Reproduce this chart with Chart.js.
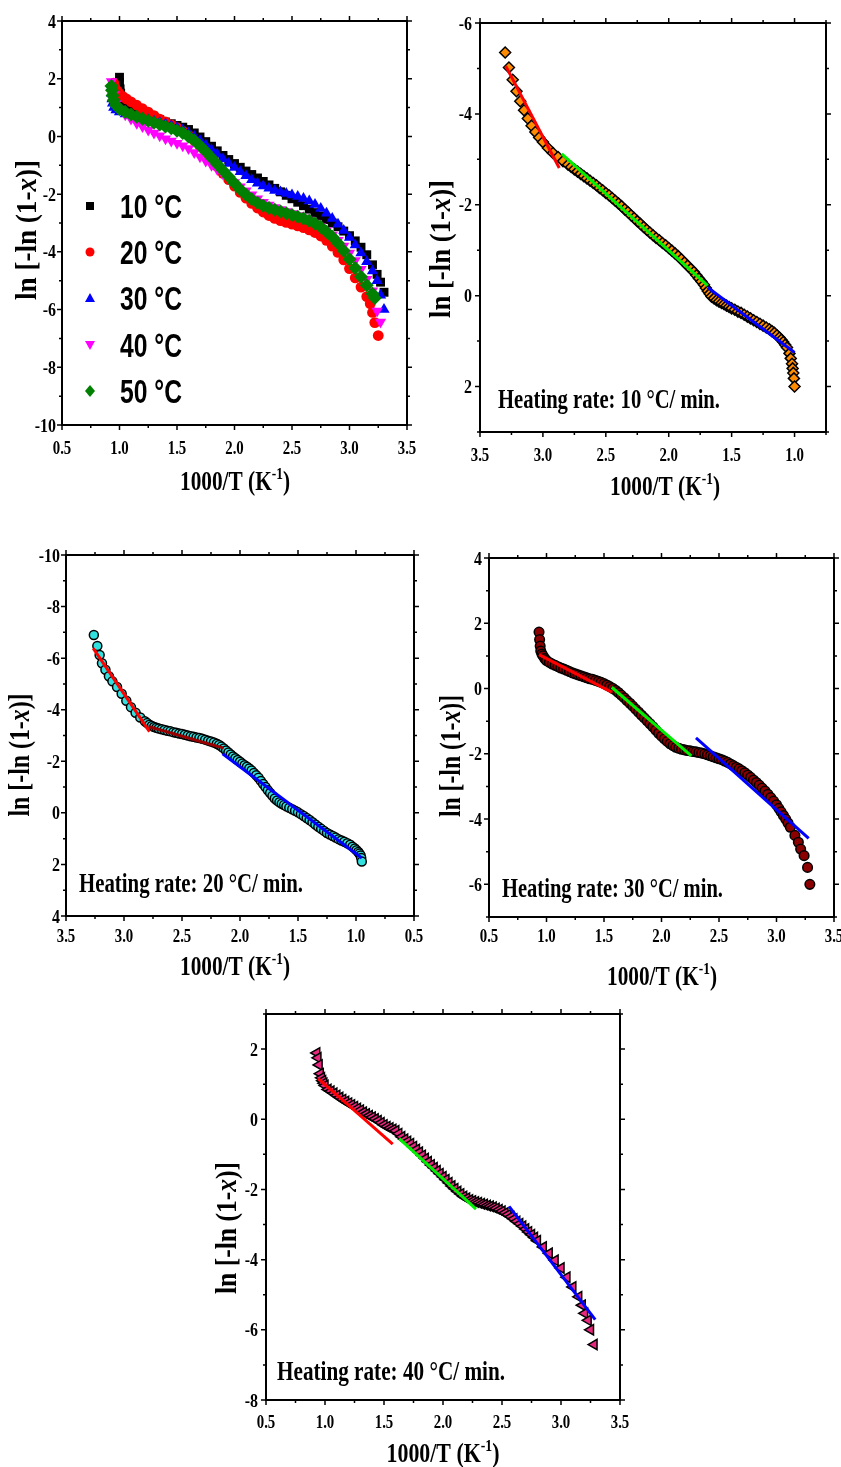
<!DOCTYPE html>
<html>
<head>
  <meta charset="UTF-8">
  <title>ln[-ln(1-x)] vs 1000/T</title>
  <script src="https://cdn.jsdelivr.net/npm/chart.js"></script>
  <style>
    body { margin: 0; background: #fff; }
    #page { position: relative; width: 841px; height: 1467px; }
    canvas { position: absolute; }
  </style>
</head>
<body>
<div id="page">
  <canvas id="p1"></canvas>
  <canvas id="p2"></canvas>
  <canvas id="p3"></canvas>
  <canvas id="p4"></canvas>
  <canvas id="p5"></canvas>
</div>
<script>
// ---- panel 1: all heating rates ----
const rateLabels = ['10 °C', '20 °C', '30 °C', '40 °C', '50 °C'];

const r10X = [1.0, 1.0, 1.005, 1.01, 1.02, 1.04, 1.07, 1.1, 1.15, 1.2, 1.25, 1.3, 1.35, 1.4, 1.45, 1.5, 1.55, 1.6, 1.65, 1.7, 1.75, 1.8, 1.85, 1.9, 1.95, 2.0, 2.05, 2.1, 2.15, 2.2, 2.25, 2.3, 2.35, 2.4, 2.45, 2.5, 2.55, 2.6, 2.65, 2.7, 2.75, 2.8, 2.85, 2.9, 2.95, 3.0, 3.05, 3.1, 3.15, 3.2, 3.24, 3.27, 3.3];
const r10Y = [2.05, 1.85, 1.65, 1.5, 1.35, 1.2, 1.08, 0.98, 0.88, 0.8, 0.72, 0.65, 0.58, 0.5, 0.44, 0.38, 0.32, 0.24, 0.12, -0.02, -0.18, -0.34, -0.5, -0.66, -0.8, -0.94, -1.07, -1.2, -1.32, -1.44, -1.56, -1.68, -1.8, -1.92, -2.04, -2.16, -2.28, -2.4, -2.52, -2.64, -2.76, -2.88, -3.0, -3.13, -3.28, -3.44, -3.62, -3.84, -4.1, -4.45, -4.78, -5.05, -5.4];

const r20X = [0.95, 0.96, 0.98, 1.0, 1.03, 1.06, 1.1, 1.15, 1.2, 1.25, 1.3, 1.35, 1.4, 1.45, 1.5, 1.55, 1.6, 1.65, 1.7, 1.75, 1.8, 1.85, 1.9, 1.95, 2.0, 2.05, 2.1, 2.15, 2.2, 2.25, 2.3, 2.35, 2.4, 2.45, 2.5, 2.55, 2.6, 2.65, 2.7, 2.75, 2.8, 2.85, 2.9, 2.95, 3.0, 3.05, 3.1, 3.15, 3.18, 3.2, 3.22, 3.25];
const r20Y = [1.85, 1.7, 1.58, 1.48, 1.38, 1.3, 1.2, 1.08, 0.96, 0.84, 0.72, 0.6, 0.5, 0.4, 0.3, 0.18, 0.04, -0.14, -0.34, -0.56, -0.8, -1.04, -1.28, -1.5, -1.72, -1.94, -2.14, -2.32, -2.48, -2.62, -2.74, -2.84, -2.92, -2.98, -3.04, -3.1, -3.16, -3.24, -3.33, -3.45, -3.6, -3.8, -4.02, -4.28, -4.58, -4.9, -5.22, -5.55, -5.8, -6.1, -6.45, -6.9];

const r30X = [0.93, 0.93, 0.935, 0.94, 0.95, 0.97, 1.0, 1.05, 1.1, 1.15, 1.2, 1.25, 1.3, 1.35, 1.4, 1.45, 1.5, 1.55, 1.6, 1.65, 1.7, 1.75, 1.8, 1.85, 1.9, 1.95, 2.0, 2.05, 2.1, 2.15, 2.2, 2.25, 2.3, 2.35, 2.4, 2.45, 2.5, 2.55, 2.6, 2.65, 2.7, 2.75, 2.8, 2.85, 2.9, 2.95, 3.0, 3.05, 3.1, 3.15, 3.2, 3.24, 3.27, 3.3];
const r30Y = [1.7, 1.5, 1.3, 1.15, 1.0, 0.92, 0.85, 0.78, 0.72, 0.68, 0.63, 0.58, 0.53, 0.48, 0.43, 0.37, 0.3, 0.22, 0.12, 0.0, -0.14, -0.3, -0.46, -0.62, -0.78, -0.94, -1.08, -1.22, -1.36, -1.5, -1.62, -1.72, -1.8, -1.87, -1.93, -1.98, -2.03, -2.08, -2.15, -2.24, -2.36, -2.5, -2.66, -2.84, -3.04, -3.26, -3.5, -3.76, -4.04, -4.34, -4.66, -5.0, -5.5, -6.0];

const r40X = [0.93, 0.95, 0.97, 1.0, 1.05, 1.1, 1.15, 1.2, 1.25, 1.3, 1.35, 1.4, 1.45, 1.5, 1.55, 1.6, 1.65, 1.7, 1.75, 1.8, 1.85, 1.9, 1.95, 2.0, 2.05, 2.1, 2.15, 2.2, 2.25, 2.3, 2.35, 2.4, 2.45, 2.5, 2.55, 2.6, 2.65, 2.7, 2.75, 2.8, 2.85, 2.9, 2.95, 3.0, 3.05, 3.1, 3.15, 3.2, 3.24, 3.27];
const r40Y = [1.9, 1.45, 1.15, 0.95, 0.75, 0.6, 0.46, 0.34, 0.22, 0.12, 0.02, -0.08, -0.16, -0.24, -0.32, -0.42, -0.56, -0.7, -0.85, -1.0, -1.15, -1.3, -1.45, -1.6, -1.74, -1.88, -2.02, -2.16, -2.28, -2.38, -2.46, -2.53, -2.6, -2.67, -2.74, -2.82, -2.9, -3.0, -3.12, -3.26, -3.42, -3.6, -3.8, -4.04, -4.3, -4.6, -4.95, -5.35, -6.05, -6.43];

const r50X = [0.93, 0.935, 0.94, 0.95, 0.97, 1.0, 1.05, 1.1, 1.15, 1.2, 1.25, 1.3, 1.35, 1.4, 1.45, 1.5, 1.55, 1.6, 1.65, 1.7, 1.75, 1.8, 1.85, 1.9, 1.95, 2.0, 2.05, 2.1, 2.15, 2.2, 2.25, 2.3, 2.35, 2.4, 2.45, 2.5, 2.55, 2.6, 2.65, 2.7, 2.75, 2.8, 2.85, 2.9, 2.95, 3.0, 3.05, 3.1, 3.15, 3.2, 3.22];
const r50Y = [1.75, 1.6, 1.42, 1.25, 1.08, 0.95, 0.85, 0.76, 0.68, 0.61, 0.54, 0.47, 0.41, 0.34, 0.28, 0.2, 0.12, 0.0, -0.14, -0.32, -0.52, -0.74, -0.96, -1.18, -1.4, -1.62, -1.84, -2.02, -2.18, -2.3, -2.4, -2.48, -2.54, -2.6, -2.66, -2.72, -2.78, -2.84, -2.92, -3.02, -3.14, -3.3, -3.48, -3.7, -3.96, -4.26, -4.56, -4.86, -5.16, -5.45, -5.6];

// ---- panel 2: 10 °C/min ----
const hr10X = [3.30, 3.27, 3.24, 3.21, 3.18, 3.15, 3.12, 3.09, 3.06, 3.03, 3.00, 2.96, 2.92, 2.88, 2.84, 2.80,
  2.775, 2.75, 2.725, 2.70, 2.675, 2.65, 2.625, 2.60, 2.575, 2.55, 2.525, 2.50, 2.475, 2.45, 2.425, 2.40, 2.375, 2.35, 2.325, 2.30,
  2.275, 2.25, 2.225, 2.20, 2.175, 2.15, 2.125, 2.10, 2.075, 2.05, 2.025, 2.00, 1.975, 1.95, 1.925, 1.90, 1.875, 1.85, 1.825, 1.80,
  1.78, 1.76, 1.74, 1.72, 1.705, 1.69, 1.675, 1.66, 1.64, 1.62, 1.60, 1.58, 1.56, 1.54, 1.52, 1.50,
  1.475, 1.45, 1.425, 1.40, 1.375, 1.35, 1.325, 1.30, 1.275, 1.25, 1.225, 1.20,
  1.18, 1.16, 1.14, 1.12, 1.105, 1.09, 1.075, 1.06, 1.04, 1.03, 1.02, 1.015, 1.01, 1.005, 1.00];
const hr10Y = [-5.35, -5.02, -4.75, -4.5, -4.28, -4.08, -3.9, -3.74, -3.6, -3.48, -3.38, -3.25, -3.14, -3.05, -2.96, -2.88,
  -2.83, -2.78, -2.73, -2.68, -2.63, -2.58, -2.53, -2.48, -2.43, -2.37, -2.32, -2.26, -2.21, -2.15, -2.09, -2.03, -1.97, -1.9, -1.84, -1.77,
  -1.71, -1.64, -1.58, -1.51, -1.45, -1.39, -1.33, -1.27, -1.22, -1.16, -1.11, -1.05, -0.99, -0.93, -0.87, -0.8, -0.73, -0.66, -0.59, -0.52,
  -0.45, -0.38, -0.31, -0.24, -0.17, -0.1, -0.04, 0.02, 0.06, 0.1, 0.13, 0.16, 0.19, 0.22, 0.25, 0.28,
  0.31, 0.35, 0.38, 0.42, 0.46, 0.5, 0.54, 0.58, 0.62, 0.66, 0.7, 0.74,
  0.78, 0.82, 0.87, 0.92, 0.97, 1.02, 1.08, 1.14, 1.27, 1.38, 1.5, 1.6, 1.7, 1.82, 2.0];
const hr10FitRX = [3.295, 2.87], hr10FitRY = [-5.05, -2.81];
const hr10FitGX = [2.85, 1.69], hr10FitGY = [-3.12, -0.22];
const hr10FitBX = [1.69, 1.0], hr10FitBY = [-0.18, 1.25];

// ---- panel 3: 20 °C/min ----
const hr20X = [3.26, 3.23, 3.21, 3.19, 3.16, 3.13, 3.10, 3.06, 3.02, 2.98, 2.94, 2.90, 2.86, 2.82, 2.80, 2.78, 2.76, 2.74, 2.72, 2.70,
  2.675, 2.65, 2.625, 2.60, 2.575, 2.55, 2.525, 2.50, 2.475, 2.45, 2.425, 2.40, 2.375, 2.35, 2.325, 2.30, 2.275, 2.25, 2.225, 2.20,
  2.18, 2.16, 2.14, 2.12, 2.10, 2.08, 2.06, 2.04, 2.02, 2.00, 1.98, 1.96, 1.94, 1.92, 1.90, 1.88, 1.86, 1.84, 1.82, 1.80,
  1.78, 1.76, 1.74, 1.72, 1.70, 1.68, 1.66, 1.64, 1.62, 1.60,
  1.575, 1.55, 1.525, 1.50, 1.475, 1.45, 1.425, 1.40, 1.375, 1.35, 1.325, 1.30, 1.275, 1.25, 1.225, 1.20, 1.175, 1.15, 1.125, 1.10, 1.075, 1.05,
  1.03, 1.01, 0.995, 0.98, 0.97, 0.96, 0.955, 0.95];
const hr20Y = [-6.9, -6.47, -6.12, -5.8, -5.55, -5.3, -5.1, -4.88, -4.62, -4.35, -4.1, -3.88, -3.7, -3.55, -3.48, -3.42, -3.37, -3.33, -3.3, -3.27,
  -3.24, -3.21, -3.18, -3.16, -3.13, -3.11, -3.08, -3.06, -3.03, -3.0, -2.97, -2.95, -2.92, -2.9, -2.87, -2.84, -2.8, -2.77, -2.73, -2.68,
  -2.63, -2.57, -2.5, -2.42, -2.34, -2.26, -2.19, -2.12, -2.05, -1.98, -1.91, -1.85, -1.79, -1.72, -1.64, -1.55, -1.46, -1.36, -1.24, -1.12,
  -1.0, -0.88, -0.77, -0.66, -0.56, -0.48, -0.41, -0.35, -0.3, -0.25,
  -0.2, -0.14, -0.08, -0.02, 0.05, 0.12, 0.2, 0.28, 0.36, 0.45, 0.54, 0.62, 0.7, 0.78, 0.84, 0.9, 0.96, 1.02, 1.07, 1.12, 1.18, 1.24,
  1.31, 1.38, 1.45, 1.52, 1.58, 1.65, 1.75, 1.89];
const hr20FitRX = [3.265, 2.78], hr20FitRY = [-6.38, -3.15];
const hr20FitMX = [2.79, 2.14], hr20FitMY = [-3.35, -2.51];
const hr20FitBX = [2.15, 0.95], hr20FitBY = [-2.29, 1.75];

// ---- panel 4: 30 °C/min ----
const hr30X = [0.935, 0.94, 0.945, 0.95, 0.96, 0.97, 0.985, 1.0,
  1.025, 1.05, 1.075, 1.1, 1.125, 1.15, 1.175, 1.2, 1.225, 1.25, 1.275, 1.3, 1.325, 1.35, 1.375, 1.4, 1.425, 1.45, 1.475, 1.5,
  1.525, 1.55, 1.575, 1.6, 1.625, 1.65, 1.675, 1.7, 1.725, 1.75, 1.775, 1.8, 1.825, 1.85, 1.875, 1.9, 1.925, 1.95, 1.975, 2.0,
  2.025, 2.05, 2.075, 2.1, 2.125, 2.15, 2.175, 2.2, 2.225, 2.25, 2.275, 2.3, 2.325, 2.35, 2.375, 2.4, 2.425, 2.45, 2.475, 2.5,
  2.525, 2.55, 2.575, 2.6, 2.625, 2.65, 2.675, 2.7, 2.725, 2.75, 2.775, 2.8, 2.825, 2.85, 2.875, 2.9, 2.925, 2.95, 2.975, 3.0,
  3.02, 3.04, 3.06, 3.08, 3.10, 3.12, 3.16, 3.19, 3.21, 3.24, 3.27, 3.29];
const hr30Y = [1.73, 1.5, 1.3, 1.15, 1.06, 1.0, 0.92, 0.86,
  0.8, 0.75, 0.71, 0.67, 0.63, 0.6, 0.56, 0.52, 0.48, 0.45, 0.42, 0.39, 0.36, 0.33, 0.3, 0.28, 0.25, 0.22, 0.19, 0.15,
  0.11, 0.06, 0.01, -0.05, -0.12, -0.2, -0.28, -0.37, -0.45, -0.54, -0.63, -0.72, -0.81, -0.9, -0.99, -1.08, -1.17, -1.27, -1.37, -1.46,
  -1.54, -1.62, -1.69, -1.75, -1.8, -1.83, -1.86, -1.88, -1.9, -1.91, -1.93, -1.94, -1.96, -1.98, -2.0, -2.03, -2.06, -2.09, -2.12, -2.15,
  -2.18, -2.22, -2.26, -2.31, -2.36, -2.41, -2.46, -2.52, -2.58, -2.65, -2.72, -2.8, -2.88, -2.96, -3.05, -3.14, -3.24, -3.34, -3.45, -3.56,
  -3.67, -3.78, -3.89, -4.0, -4.12, -4.25, -4.5, -4.71, -4.92, -5.12, -5.48, -6.0];
const hr30FitRX = [0.935, 1.567], hr30FitRY = [1.04, -0.11];
const hr30FitGX = [1.567, 2.26], hr30FitGY = [0.04, -2.06];
const hr30FitBX = [2.30, 3.28], hr30FitBY = [-1.51, -4.59];

// ---- panel 5: 40 °C/min ----
const hr40X = [0.93, 0.94, 0.95, 0.96, 0.97, 0.98, 0.99, 1.0,
  1.025, 1.05, 1.075, 1.1, 1.125, 1.15, 1.175, 1.2, 1.225, 1.25, 1.275, 1.3, 1.325, 1.35, 1.375, 1.4, 1.425, 1.45, 1.475, 1.5,
  1.525, 1.55, 1.575, 1.6, 1.625, 1.65, 1.675, 1.7, 1.725, 1.75, 1.775, 1.8, 1.825, 1.85, 1.875, 1.9, 1.925, 1.95, 1.975, 2.0,
  2.025, 2.05, 2.075, 2.1, 2.125, 2.15, 2.175, 2.2, 2.225, 2.25, 2.275, 2.3, 2.325, 2.35, 2.375, 2.4, 2.425, 2.45, 2.475, 2.5,
  2.525, 2.55, 2.575, 2.6, 2.625, 2.65, 2.675, 2.7, 2.725, 2.75, 2.775, 2.8,
  2.85, 2.9, 2.95, 3.0, 3.05, 3.1, 3.15, 3.18, 3.2, 3.23, 3.25, 3.28];
const hr40Y = [1.89, 1.75, 1.55, 1.3, 1.18, 1.1, 1.03, 0.96,
  0.85, 0.8, 0.74, 0.68, 0.62, 0.56, 0.51, 0.46, 0.41, 0.36, 0.31, 0.26, 0.2, 0.15, 0.1, 0.06, 0.01, -0.04, -0.1, -0.16,
  -0.21, -0.25, -0.29, -0.33, -0.41, -0.5, -0.57, -0.63, -0.7, -0.78, -0.86, -0.94, -1.03, -1.12, -1.21, -1.3, -1.38, -1.47, -1.55, -1.64,
  -1.72, -1.81, -1.9, -1.98, -2.06, -2.13, -2.2, -2.25, -2.3, -2.33, -2.36, -2.38, -2.41, -2.43, -2.46, -2.48, -2.51, -2.54, -2.58, -2.62,
  -2.67, -2.72, -2.78, -2.84, -2.91, -2.98, -3.05, -3.13, -3.21, -3.29, -3.37, -3.46,
  -3.64, -3.82, -4.02, -4.24, -4.5, -4.78, -5.06, -5.3, -5.53, -5.73, -6.0, -6.42];
const hr40FitRX = [0.943, 1.574], hr40FitRY = [1.16, -0.71];
const hr40FitGX = [1.63, 2.28], hr40FitGY = [-0.55, -2.56];
const hr40FitBX = [2.56, 3.29], hr40FitBY = [-2.48, -5.71];

const SERIF = '"Liberation Serif", "Times New Roman", serif';
const SANS = '"Liberation Sans", Arial, sans-serif';
const YW = 44, XH = 30;   // fixed axis box sizes

function pts(xs, ys) { return xs.map((x, i) => ({ x: x, y: ys[i] })); }

function marks(xs, ys, style, order) {
  return Object.assign({ data: pts(xs, ys), showLine: false, order: order }, style);
}
function fitLine(xs, ys, color) {
  return { data: pts(xs, ys), showLine: true, borderColor: color, borderWidth: 3, pointRadius: 0, order: 0 };
}

function eachStep(min, max, step, major, fn) {
  const n = Math.round((max - min) / step);
  for (let i = 0; i <= n; i++) {
    const v = min + i * step, r = v / major;
    fn(v, Math.abs(r - Math.round(r)) < 1e-6);
  }
}

// draw runs of text on one line, squeezed to a target width, centred on cx
function drawRuns(ctx, runs, cx, baseY, target) {
  let w = 0;
  runs.forEach(r => { ctx.font = r.font; w += ctx.measureText(r.t).width; });
  ctx.save();
  ctx.translate(cx - target / 2, baseY);
  ctx.scale(target / w, 1);
  ctx.textAlign = 'left';
  ctx.textBaseline = 'alphabetic';
  let x = 0;
  runs.forEach(r => { ctx.font = r.font; ctx.fillText(r.t, x, r.dy || 0); x += ctx.measureText(r.t).width; });
  ctx.restore();
}

// tick label squeezed horizontally like the original figure
function squeezed(ctx, text, x, y, align, k) {
  ctx.save();
  ctx.translate(x, y);
  ctx.scale(k, 1);
  ctx.textAlign = align;
  ctx.fillText(text, 0, 0);
  ctx.restore();
}

function drawMarker(ctx, shape, color, x, y) {
  ctx.fillStyle = color;
  ctx.beginPath();
  if (shape === 'rect') ctx.rect(x - 4, y - 4, 8, 8);
  else if (shape === 'circle') ctx.arc(x, y, 4.5, 0, Math.PI * 2);
  else if (shape === 'up') { ctx.moveTo(x, y - 5); ctx.lineTo(x + 5, y + 4); ctx.lineTo(x - 5, y + 4); }
  else if (shape === 'down') { ctx.moveTo(x, y + 5); ctx.lineTo(x + 5, y - 4); ctx.lineTo(x - 5, y - 4); }
  else if (shape === 'diamond') { ctx.moveTo(x, y - 6); ctx.lineTo(x + 5, y); ctx.lineTo(x, y + 6); ctx.lineTo(x - 5, y); }
  ctx.closePath();
  ctx.fill();
}

const decoPlugin = {
  id: 'deco',
  afterDraw(chart, args, o) {
    const ctx = chart.ctx, a = chart.chartArea, sx = chart.scales.x, sy = chart.scales.y;
    ctx.save();
    ctx.strokeStyle = '#000';
    ctx.lineWidth = 2;
    ctx.strokeRect(a.left, a.top, a.right - a.left, a.bottom - a.top);
    // major and minor ticks, outward on all four sides, labels on the majors
    ctx.lineWidth = 1.5;
    ctx.fillStyle = '#000';
    ctx.font = 'bold 19px ' + SERIF;
    ctx.textBaseline = 'alphabetic';
    ctx.beginPath();
    eachStep(sx.min, sx.max, o.xMinor, o.xMajor, (v, major) => {
      const p = sx.getPixelForValue(v), L = major ? 5 : 3;
      ctx.moveTo(p, a.bottom); ctx.lineTo(p, a.bottom + L);
      ctx.moveTo(p, a.top); ctx.lineTo(p, a.top - L);
      if (major) squeezed(ctx, v.toFixed(1), p, a.bottom + o.xLab, 'center', 0.78);
    });
    eachStep(sy.min, sy.max, o.yMinor, o.yMajor, (v, major) => {
      const p = sy.getPixelForValue(v), L = major ? 5 : 3;
      ctx.moveTo(a.left, p); ctx.lineTo(a.left - L, p);
      ctx.moveTo(a.right, p); ctx.lineTo(a.right + L, p);
      if (major) squeezed(ctx, String(Math.round(v)), a.left - o.yLab, p + 6.5, 'right', 0.84);
    });
    ctx.stroke();

    // x title with superscript
    drawRuns(ctx, [
      { t: '1000/T (K', font: 'bold 27px ' + SERIF },
      { t: '-1', font: 'bold 17px ' + SERIF, dy: -11 },
      { t: ')', font: 'bold 27px ' + SERIF }
    ], o.xt[0], o.xt[1], o.xt[2]);

    // y title, rotated
    ctx.save();
    ctx.translate(o.yt[0] + 8, o.yt[1]);
    ctx.rotate(-Math.PI / 2);
    drawRuns(ctx, [
      { t: 'ln [-ln (1-', font: 'bold 30px ' + SERIF },
      { t: 'x', font: 'italic bold 30px ' + SERIF },
      { t: ')]', font: 'bold 30px ' + SERIF }
    ], 0, 0, o.yt[2]);
    ctx.restore();

    if (o.note) {
      drawRuns(ctx, [{ t: o.note[0], font: 'bold 27px ' + SERIF }],
        o.note[1] + o.note[3] / 2, o.note[2], o.note[3]);
    }

    if (o.legend) {
      o.legend.forEach((item, i) => {
        const y = o.legendRows[i];
        drawMarker(ctx, item.shape, item.color, o.legendMarkX, y);
        ctx.fillStyle = '#000';
        drawRuns(ctx, [{ t: rateLabels[i], font: 'bold 34px ' + SANS }],
          o.legendTextX + 31, y + 12, 62);
      });
    }
    ctx.restore();
  }
};

function axis(s, isX) {
  return {
    type: 'linear', min: s.min, max: s.max, reverse: !!s.reverse,
    afterFit: sc => { if (isX) sc.height = XH; else sc.width = YW; },
    grid: { display: false },
    border: { display: false },
    ticks: { display: false, stepSize: s.major, includeBounds: false }
  };
}

// pos: canvas box in page px; area: plot rectangle in canvas px
function panel(id, pos, area, xAx, yAx, datasets, deco) {
  const cv = document.getElementById(id);
  cv.width = pos.w; cv.height = pos.h;
  cv.style.left = pos.x + 'px'; cv.style.top = pos.y + 'px';
  // page coords of decorations -> canvas coords
  deco.xt = [deco.xt[0] - pos.x, deco.xt[1] - pos.y, deco.xt[2]];
  deco.yt = [deco.yt[0] - pos.x, deco.yt[1] - pos.y, deco.yt[2]];
  if (deco.note) deco.note = [deco.note[0], deco.note[1] - pos.x, deco.note[2] - pos.y, deco.note[3]];
  deco.xMajor = xAx.major; deco.xMinor = xAx.major / 2;
  deco.yMajor = yAx.major; deco.yMinor = yAx.major / 2;
  return new Chart(cv, {
    type: 'scatter',
    data: { datasets: datasets },
    options: {
      responsive: false,
      animation: false,
      events: [],
      layout: { padding: { left: area.l - YW, top: area.t, right: pos.w - area.r, bottom: pos.h - area.b - XH } },
      plugins: { legend: { display: false }, tooltip: { enabled: false }, deco: deco },
      scales: { x: axis(xAx, true), y: axis(yAx, false) }
    },
    plugins: [decoPlugin]
  });
}

const OUTLINE = { borderColor: '#000', borderWidth: 1.5 };

// Panel 1
panel('p1', { x: 0, y: 0, w: 420, h: 505 }, { l: 62, t: 21, r: 407, b: 425 },
  { min: 0.5, max: 3.5, major: 0.5 }, { min: -10, max: 4, major: 2 },
  [
    marks(r10X, r10Y, { pointStyle: 'rect', pointRadius: 6.3, backgroundColor: '#000000', borderWidth: 0 }, 5),
    marks(r20X, r20Y, { pointStyle: 'circle', pointRadius: 5.4, backgroundColor: '#ff0000', borderWidth: 0 }, 4),
    marks(r30X, r30Y, { pointStyle: 'triangle', pointRadius: 6.5, backgroundColor: '#0000ff', borderWidth: 0 }, 3),
    marks(r40X, r40Y, { pointStyle: 'triangle', pointRotation: 180, pointRadius: 6.5, backgroundColor: '#ff00ff', borderWidth: 0 }, 2),
    marks(r50X, r50Y, { pointStyle: 'rectRot', pointRadius: 7, backgroundColor: '#008000', borderWidth: 0 }, 1)
  ],
  {
    xt: [235, 490, 110], yt: [28, 230, 140], xLab: 29, yLab: 6,
    legend: [
      { shape: 'rect', color: '#000000' }, { shape: 'circle', color: '#ff0000' },
      { shape: 'up', color: '#0000ff' }, { shape: 'down', color: '#ff00ff' },
      { shape: 'diamond', color: '#008000' }
    ],
    legendRows: [206, 252, 298, 345, 391], legendMarkX: 90, legendTextX: 120
  });

// Panel 2
panel('p2', { x: 420, y: 0, w: 421, h: 505 }, { l: 60, t: 23, r: 406, b: 432 },
  { min: 0.75, max: 3.5, major: 0.5, reverse: true }, { min: -6, max: 3, major: 2, reverse: true },
  [
    fitLine(hr10FitRX, hr10FitRY, '#ff0000'),
    fitLine(hr10FitGX, hr10FitGY, '#00ee00'),
    fitLine(hr10FitBX, hr10FitBY, '#0000ff'),
    marks(hr10X, hr10Y, Object.assign({ pointStyle: 'rectRot', pointRadius: 5.5, backgroundColor: '#ff8c00' }, OUTLINE), 1)
  ],
  { xt: [665, 495, 110], yt: [442, 249, 138], xLab: 29, yLab: 8, note: ['Heating rate: 10 °C/ min.', 498, 408, 222] });

// Panel 3
panel('p3', { x: 0, y: 520, w: 430, h: 470 }, { l: 66, t: 35, r: 414, b: 396 },
  { min: 0.5, max: 3.5, major: 0.5, reverse: true }, { min: -10, max: 4, major: 2, reverse: true },
  [
    fitLine(hr20FitRX, hr20FitRY, '#ff0000'),
    fitLine(hr20FitMX, hr20FitMY, '#990000'),
    fitLine(hr20FitBX, hr20FitBY, '#0000ff'),
    marks(hr20X, hr20Y, Object.assign({ pointStyle: 'circle', pointRadius: 4.5, backgroundColor: '#33e0e0' }, OUTLINE), 1)
  ],
  { xt: [235, 975, 110], yt: [21, 755, 123], xLab: 26, yLab: 6, note: ['Heating rate: 20 °C/ min.', 79, 892, 224] });

// Panel 4
panel('p4', { x: 430, y: 520, w: 411, h: 475 }, { l: 59, t: 38, r: 404, b: 397 },
  { min: 0.5, max: 3.5, major: 0.5 }, { min: -7, max: 4, major: 2 },
  [
    fitLine(hr30FitRX, hr30FitRY, '#ff0000'),
    fitLine(hr30FitGX, hr30FitGY, '#00ee00'),
    fitLine(hr30FitBX, hr30FitBY, '#0000ff'),
    marks(hr30X, hr30Y, Object.assign({ pointStyle: 'circle', pointRadius: 4.8, backgroundColor: '#8b0000' }, OUTLINE), 1)
  ],
  { xt: [662, 985, 110], yt: [452, 756, 122], xLab: 25, yLab: 7, note: ['Heating rate: 30 °C/ min.', 502, 897, 221] });

// Panel 5
panel('p5', { x: 210, y: 1000, w: 430, h: 467 }, { l: 56, t: 14, r: 410, b: 400 },
  { min: 0.5, max: 3.5, major: 0.5 }, { min: -8, max: 3, major: 2 },
  [
    fitLine(hr40FitRX, hr40FitRY, '#ff0000'),
    fitLine(hr40FitGX, hr40FitGY, '#00ee00'),
    fitLine(hr40FitBX, hr40FitBY, '#0000ff'),
    marks(hr40X, hr40Y, Object.assign({ pointStyle: 'triangle', pointRotation: -90, pointRadius: 6, backgroundColor: '#e8287e' }, OUTLINE), 1)
  ],
  { xt: [443, 1462, 113], yt: [228, 1228, 132], xLab: 28, yLab: 8, note: ['Heating rate: 40 °C/ min.', 277, 1380, 228] });
</script>
</body>
</html>
